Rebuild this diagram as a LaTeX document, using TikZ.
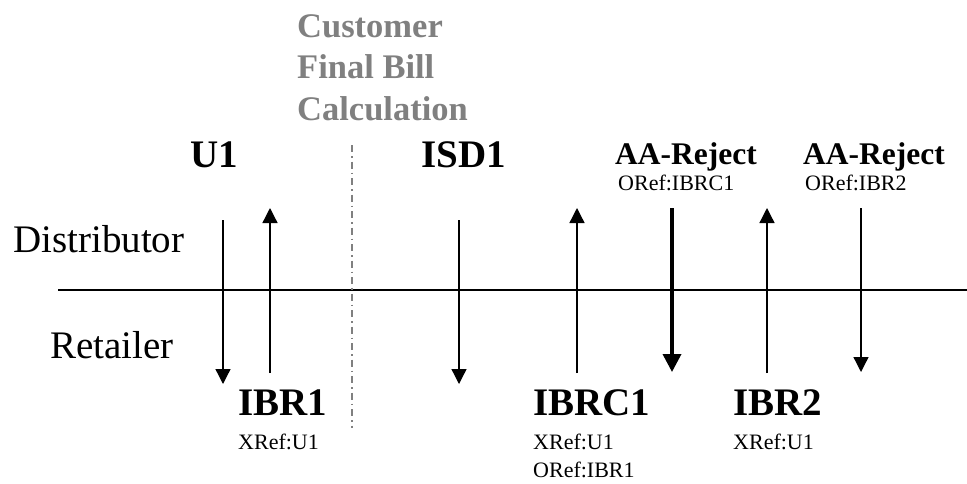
\documentclass[tikz,border=0pt]{standalone}
\usepackage{fontspec}
\setmainfont{Liberation Serif}
\usetikzlibrary{arrows.meta}

\tikzset{
  lbl/.style={inner sep=0pt,anchor=base west},
  party/.style={lbl,font=\fontsize{39}{47}\selectfont},
  msgname/.style={lbl,font=\bfseries\fontsize{39}{47}\selectfont},
  rejname/.style={lbl,font=\bfseries\fontsize{31.5}{38}\selectfont},
  refs/.style={lbl,align=left,font=\fontsize{22}{28}\selectfont},
  note/.style={lbl,align=left,text=gray,font=\bfseries\fontsize{34.5}{41.5}\selectfont},
  msg/.style={line width=1.3pt,-{Triangle[width=15pt,length=15pt]}},
  rejmsg/.style={line width=3.5pt,-{Triangle[width=18pt,length=18pt]}}
}

\begin{document}
\begin{tikzpicture}[x=1pt,y=-1pt]
\useasboundingbox (0,0) rectangle (967,483);
% parties and the boundary between them
\node[party] (dist) at (13,252) {Distributor};
\node[party] (ret) at (50,358) {Retailer};
\coordinate (lineL) at (58,290);
\coordinate (lineR) at (967,290);
\draw[line width=1.5pt] (lineL) -- (lineR);
% final bill marker (base = last line)
\node[note] (bill) at (297,120) {Customer\\Final Bill\\Calculation};
\coordinate (billT) at (352,145);
\coordinate (billB) at (352,428);
\draw[gray,line width=1.3pt,dash pattern=on 7pt off 4pt on 1.5pt off 4pt] (billT) -- (billB);
% message labels
\node[msgname] (u1) at (190,167) {U1};
\node[msgname] (isd1) at (421,167) {ISD1};
\node[rejname] (rej1) at (615,164) {AA-Reject};
\node[refs] (rej1r) at (618,190) {ORef:IBRC1};
\node[rejname] (rej2) at (803,164) {AA-Reject};
\node[refs] (rej2r) at (805,190) {ORef:IBR2};
\node[msgname] (ibr1) at (238,415) {IBR1};
\node[refs] (ibr1r) at (238,449) {XRef:U1};
\node[msgname] (ibrc1) at (533,415) {IBRC1};
\node[refs] (ibrc1r) at (533,477) {XRef:U1\\ORef:IBR1};
\node[msgname] (ibr2) at (733,415) {IBR2};
\node[refs] (ibr2r) at (733,449) {XRef:U1};
% arrow ends
\coordinate (u1a) at (223,220);   \coordinate (u1b) at (223,384);
\coordinate (ibr1a) at (270,373); \coordinate (ibr1b) at (270,208);
\coordinate (isd1a) at (459,220); \coordinate (isd1b) at (459,384);
\coordinate (ibrc1a) at (577,373);\coordinate (ibrc1b) at (577,208);
\coordinate (rej1a) at (672,208); \coordinate (rej1b) at (672,372);
\coordinate (ibr2a) at (767,373); \coordinate (ibr2b) at (767,208);
\coordinate (rej2a) at (861,208); \coordinate (rej2b) at (861,372);
\draw[msg] (u1a) -- (u1b);
\draw[msg] (ibr1a) -- (ibr1b);
\draw[msg] (isd1a) -- (isd1b);
\draw[msg] (ibrc1a) -- (ibrc1b);
\draw[rejmsg] (rej1a) -- (rej1b);
\draw[msg] (ibr2a) -- (ibr2b);
\draw[msg] (rej2a) -- (rej2b);
\end{tikzpicture}
\end{document}
